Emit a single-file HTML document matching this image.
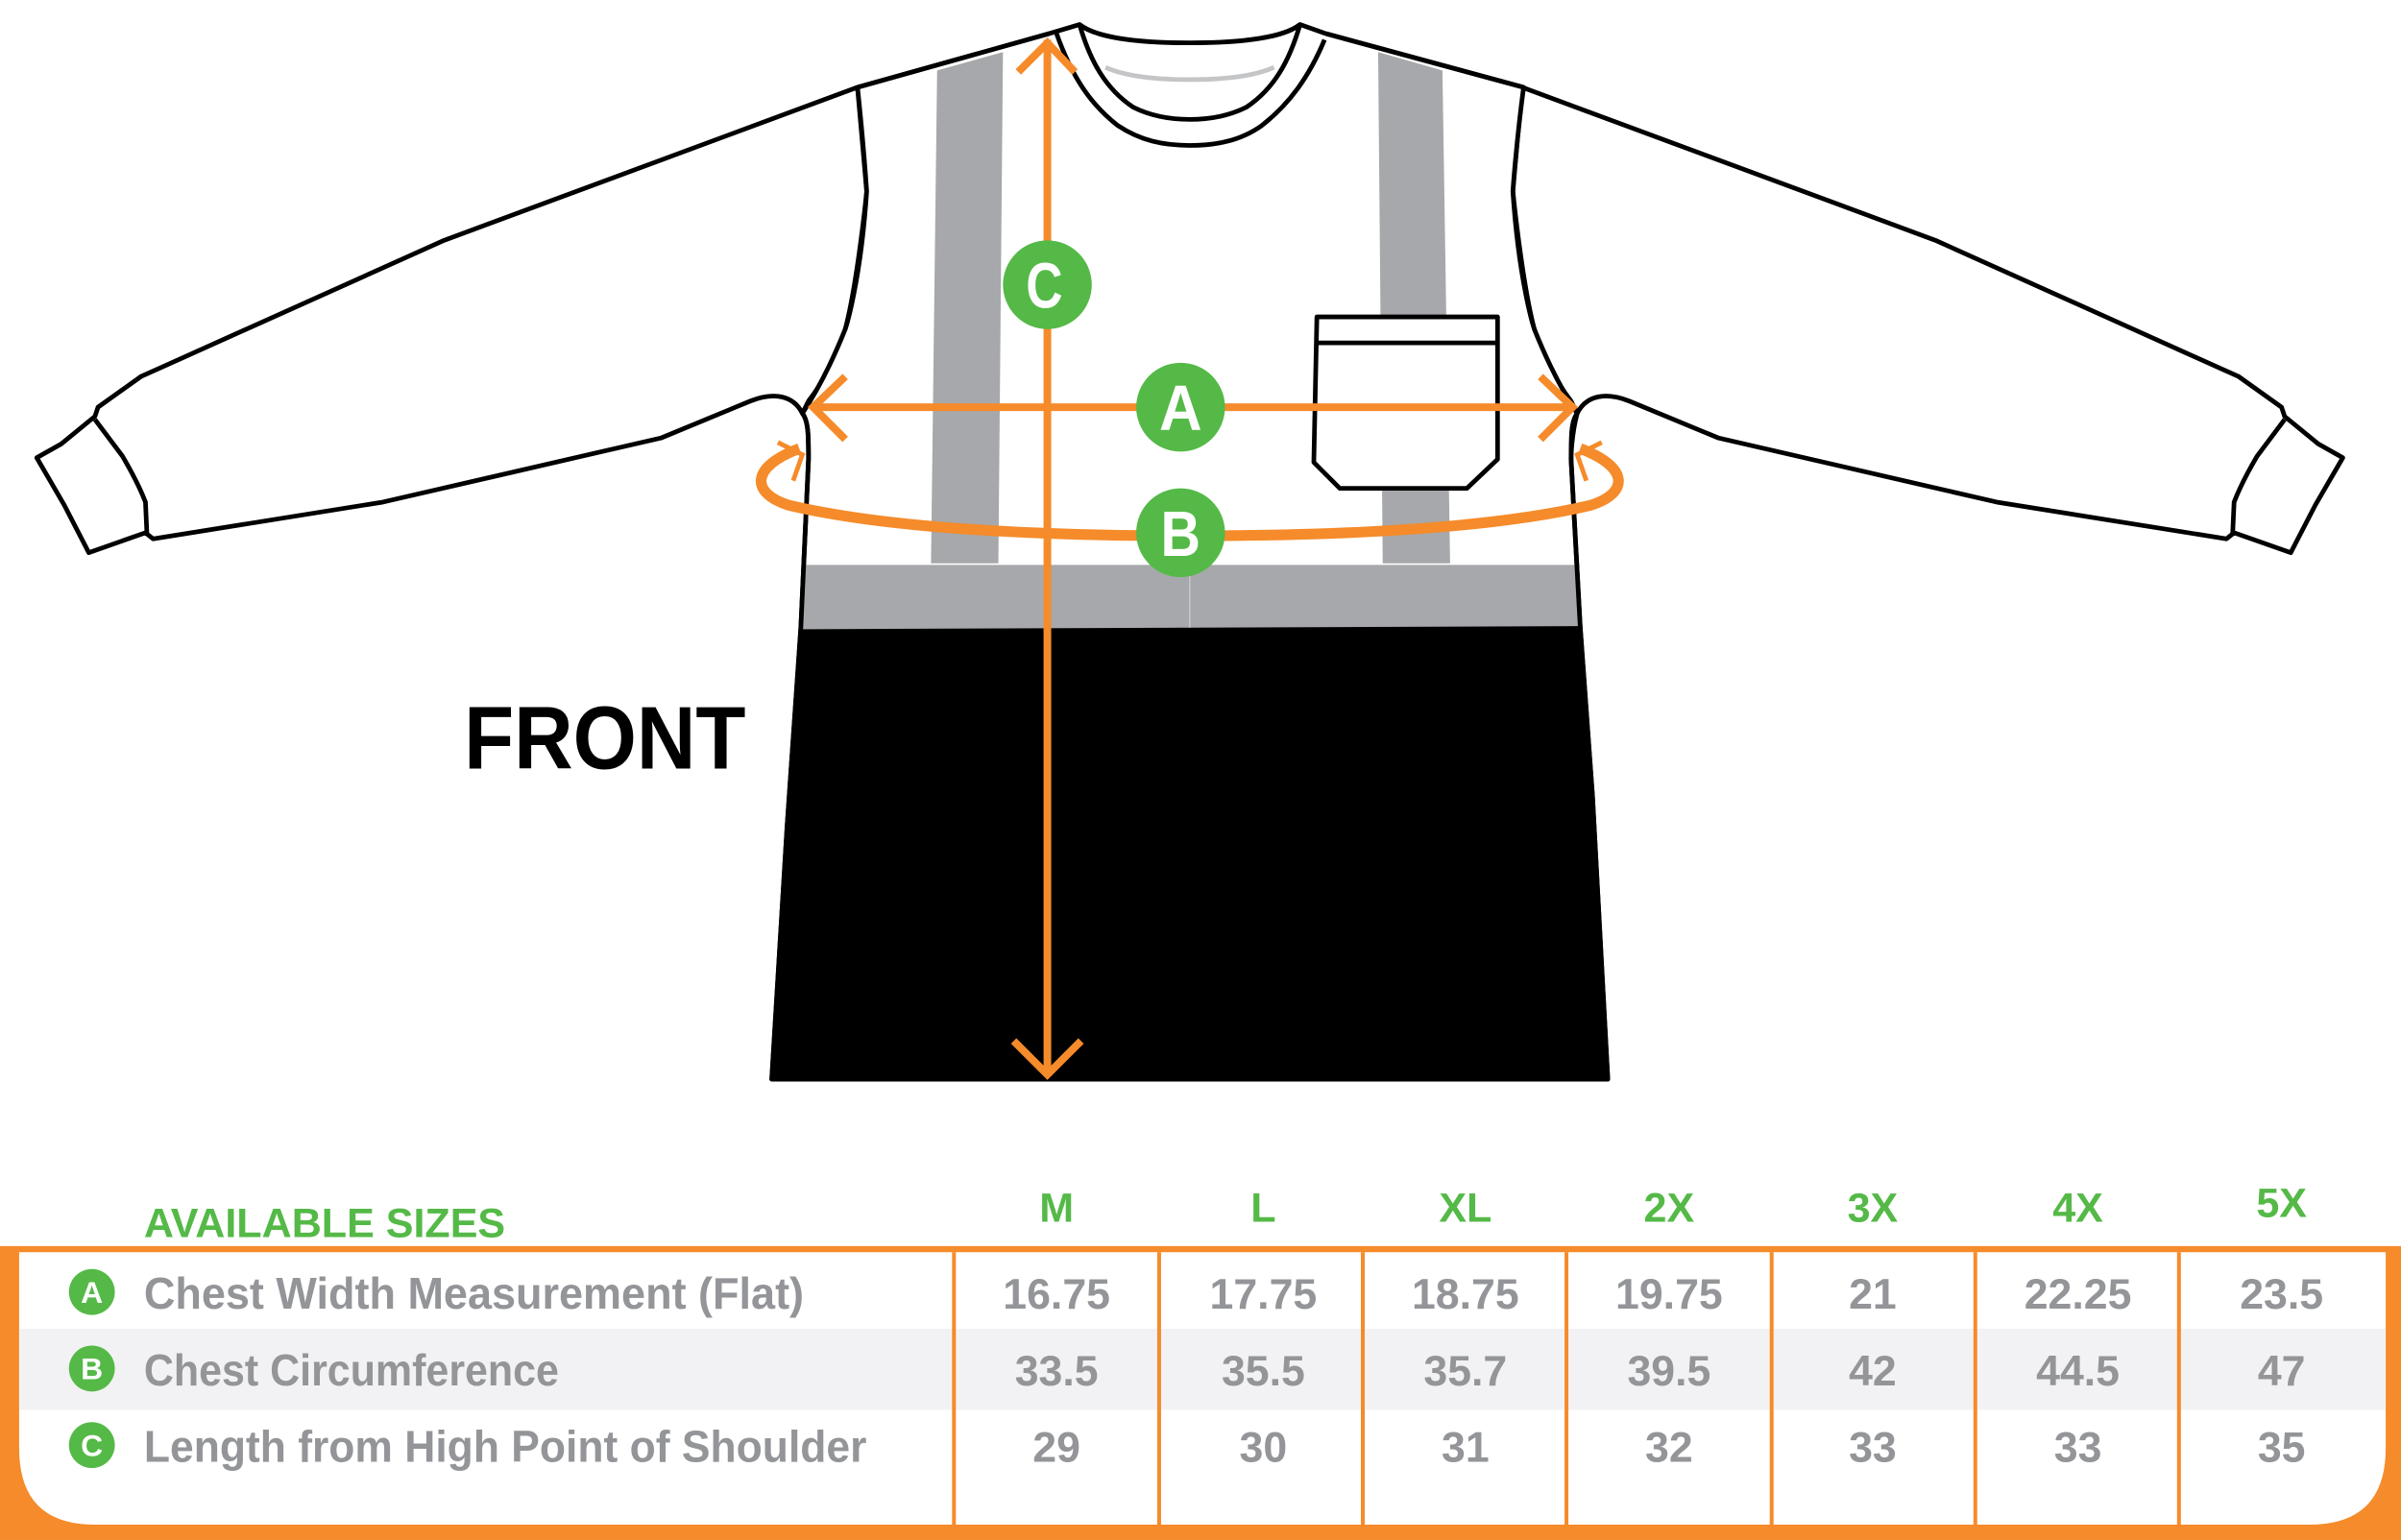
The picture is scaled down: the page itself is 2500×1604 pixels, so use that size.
<!DOCTYPE html>
<html><head><meta charset="utf-8"><style>
html,body{margin:0;padding:0;background:#fff;}
svg{display:block;}
text{font-family:"Liberation Sans",sans-serif;font-weight:bold;}
</style></head><body>
<svg width="2500" height="1604" viewBox="0 0 1568 1006" xmlns="http://www.w3.org/2000/svg">
<rect width="1568" height="1006" fill="#fff"/>
<!-- sleeves -->
<g fill="#fff" stroke="#000" stroke-width="3" stroke-linejoin="round">
<path d="M560,57 L290,157 L92,246 L64,266 L62,272 L40,290 L24,299 L42,330 L58,361 L95,348 L100,352 L250,328 L432,286 L490,262 C505,256 518,258 524,270 L528,262 C545,240 552,215 552,215 C560,185 566,125 566,125 Z"/>
<path d="M62,274 L80,298 Q90,315 95,328 L96,350" fill="none"/>
<path d="M994,57 L1264,157 L1462,246 L1490,266 L1492,272 L1514,290 L1530,299 L1512,330 L1496,361 L1459,348 L1454,352 L1304,328 L1122,286 L1064,262 C1049,256 1036,258 1030,270 L1026,262 C1009,240 1002,215 1002,215 C994,185 988,125 988,125 Z"/>
<path d="M1492,274 L1474,298 Q1464,315 1459,328 L1458,350" fill="none"/>
<!-- body -->
<path d="M560,57 L685,22 L705,16 C715,24 740,28 777,28 C814,28 839,24 849,16 L866,22 L995,57 C990,95 988,125 988,125 C992,185 1002,215 1002,215 C1010,235 1020,255 1030,270 C1026,285 1026,300 1026,300 L1032,410 L1040,520 L1050,705 L504,705 L514,540 L523,410 L528,300 C528,285 528,275 524,270 C534,255 544,235 552,215 C552,215 562,185 566,125 C566,125 564,95 560,57 Z"/>
</g>
<!-- stripes -->
<g fill="#a7a8ab">
<path d="M612,46 L655,34 L652,368 L608,368 Z"/>
<path d="M900,34 L942,46 L947,368 L903,368 Z"/>
<path d="M526,369 L1029,369 L1031,410 L523,411 Z"/>
</g>
<path d="M523,411 L1032,409 L1040,520 L1050,705 L504,705 L514,540 Z" fill="#000"/>
<path d="M777,369 L777,410" stroke="#c4c5c7" stroke-width="1"/>
<!-- re-stroke sides -->
<g fill="none" stroke="#000" stroke-width="3" stroke-linejoin="round">
<path d="M524,270 C528,275 528,285 528,300 L523,410 L514,540 L504,705 L1050,705 L1040,520 L1032,410 L1026,300 C1026,285 1026,275 1030,270"/>
<path d="M560,57 L685,22 M866,22 L995,57"/>
<!-- collar -->
<path d="M690,22 C700,50 712,68 730,82 C745,92 760,95 777,95 C794,95 810,92 824,82 C842,68 855,50 865,26" fill="#fff"/>
<path d="M705,16 C712,40 722,58 740,70 C752,76 765,78 777,78 C789,78 802,76 814,70 C832,58 842,40 849,16"/>
<path d="M705,16 C715,24 740,28 777,28 C814,28 839,24 849,16"/>
<!-- pocket -->
<path d="M860,207 L978,207 L978,300 L958,319 L875,319 L858,302 Z" fill="#fff"/>
<path d="M860,224 L978,224"/>
</g>
<path d="M722,44 Q740,52 777,52 Q814,52 832,44" fill="none" stroke="#c4c5c7" stroke-width="3"/>
<!-- orange measures -->
<g stroke="#f58b2a" fill="none" stroke-width="5" stroke-linecap="butt">
<path d="M684,26 L684,702"/>
<path d="M665,47 L684,28 L702,47"/>
<path d="M662,680 L684,702 L706,680"/>
<path d="M530,266 L1028,266"/>
<path d="M552,246 L531,266 L552,287"/>
<path d="M1006,246 L1027,266 L1006,287"/>
<path d="M522,293 C490,305 490,322 515,330 Q600,350 777,350 Q954,350 1039,330 C1064,322 1064,305 1032,293" stroke-width="7"/>
<path d="M508,289 L524,297 L518,314" stroke-width="3"/>
<path d="M1046,289 L1030,297 L1036,314" stroke-width="3"/>
</g>
<g fill="#55b947">
<circle cx="684" cy="186" r="29"/>
<circle cx="771" cy="266" r="29"/>
<circle cx="771" cy="348" r="29"/>
</g>
<g fill="#fff" font-size="42" text-anchor="middle">
<text x="682" y="201" textLength="24" lengthAdjust="spacingAndGlyphs">C</text>
<text x="771" y="281" textLength="28" lengthAdjust="spacingAndGlyphs">A</text>
<text x="771" y="363" textLength="26" lengthAdjust="spacingAndGlyphs">B</text>
</g>
<text x="303" y="502" font-size="58" fill="#000" textLength="184" lengthAdjust="spacingAndGlyphs">FRONT</text>

<!-- table -->
<rect x="0" y="814" width="1568" height="192" fill="#f58b2a"/>
<path d="M12.5,818 L1558,818 L1558,946 Q1558,996 1508,996 L62,996 Q12.5,996 12.5,946 Z" fill="#fff"/>
<rect x="12.5" y="868" width="1545.5" height="53" fill="#f2f2f4"/>
<g stroke="#f58b2a" stroke-width="2.5">
<path d="M623,818V996M757,818V996M890,818V996M1023,818V996M1157,818V996M1290,818V996M1423,818V996"/>
</g>
<text x="94" y="808" font-size="27" fill="#55b947" textLength="236" lengthAdjust="spacingAndGlyphs">AVAILABLE SIZES</text>
<g fill="#55b947" font-size="27" text-anchor="middle">
<text x="690" y="798">M</text><text x="825" y="798">L</text><text x="957" y="798">XL</text><text x="1090" y="798">2X</text><text x="1223" y="798">3X</text><text x="1357" y="798">4X</text><text x="1490" y="795">5X</text>
</g>
<g fill="#55b947"><circle cx="60" cy="844" r="15"/><circle cx="60" cy="894" r="15"/><circle cx="60" cy="944" r="15"/></g>
<g fill="#fff" font-size="20" text-anchor="middle">
<text x="60" y="851">A</text><text x="60" y="901">B</text><text x="60" y="951">C</text>
</g>
<g fill="#939598" font-size="29">
<text x="94" y="855" textLength="431" lengthAdjust="spacingAndGlyphs">Chest Width Measurement (Flat)</text>
<text x="94" y="905" textLength="271" lengthAdjust="spacingAndGlyphs">Chest Circumference</text>
<text x="94" y="955" textLength="472" lengthAdjust="spacingAndGlyphs">Length from High Point of Shoulder</text>
</g>
<g fill="#939598" font-size="28" text-anchor="middle">
<text x="690" y="855">16.75</text><text x="825" y="855">17.75</text><text x="957" y="855">18.75</text><text x="1090" y="855">19.75</text><text x="1223" y="855">21</text><text x="1357" y="855">22.25</text><text x="1490" y="855">23.5</text>
<text x="690" y="905">33.5</text><text x="825" y="905">35.5</text><text x="957" y="905">35.7</text><text x="1090" y="905">39.5</text><text x="1223" y="905">42</text><text x="1357" y="905">44.5</text><text x="1490" y="905">47</text>
<text x="690" y="955">29</text><text x="825" y="955">30</text><text x="957" y="955">31</text><text x="1090" y="955">32</text><text x="1223" y="955">33</text><text x="1357" y="955">33</text><text x="1490" y="955">35</text>
</g>
</svg>
</body></html>
